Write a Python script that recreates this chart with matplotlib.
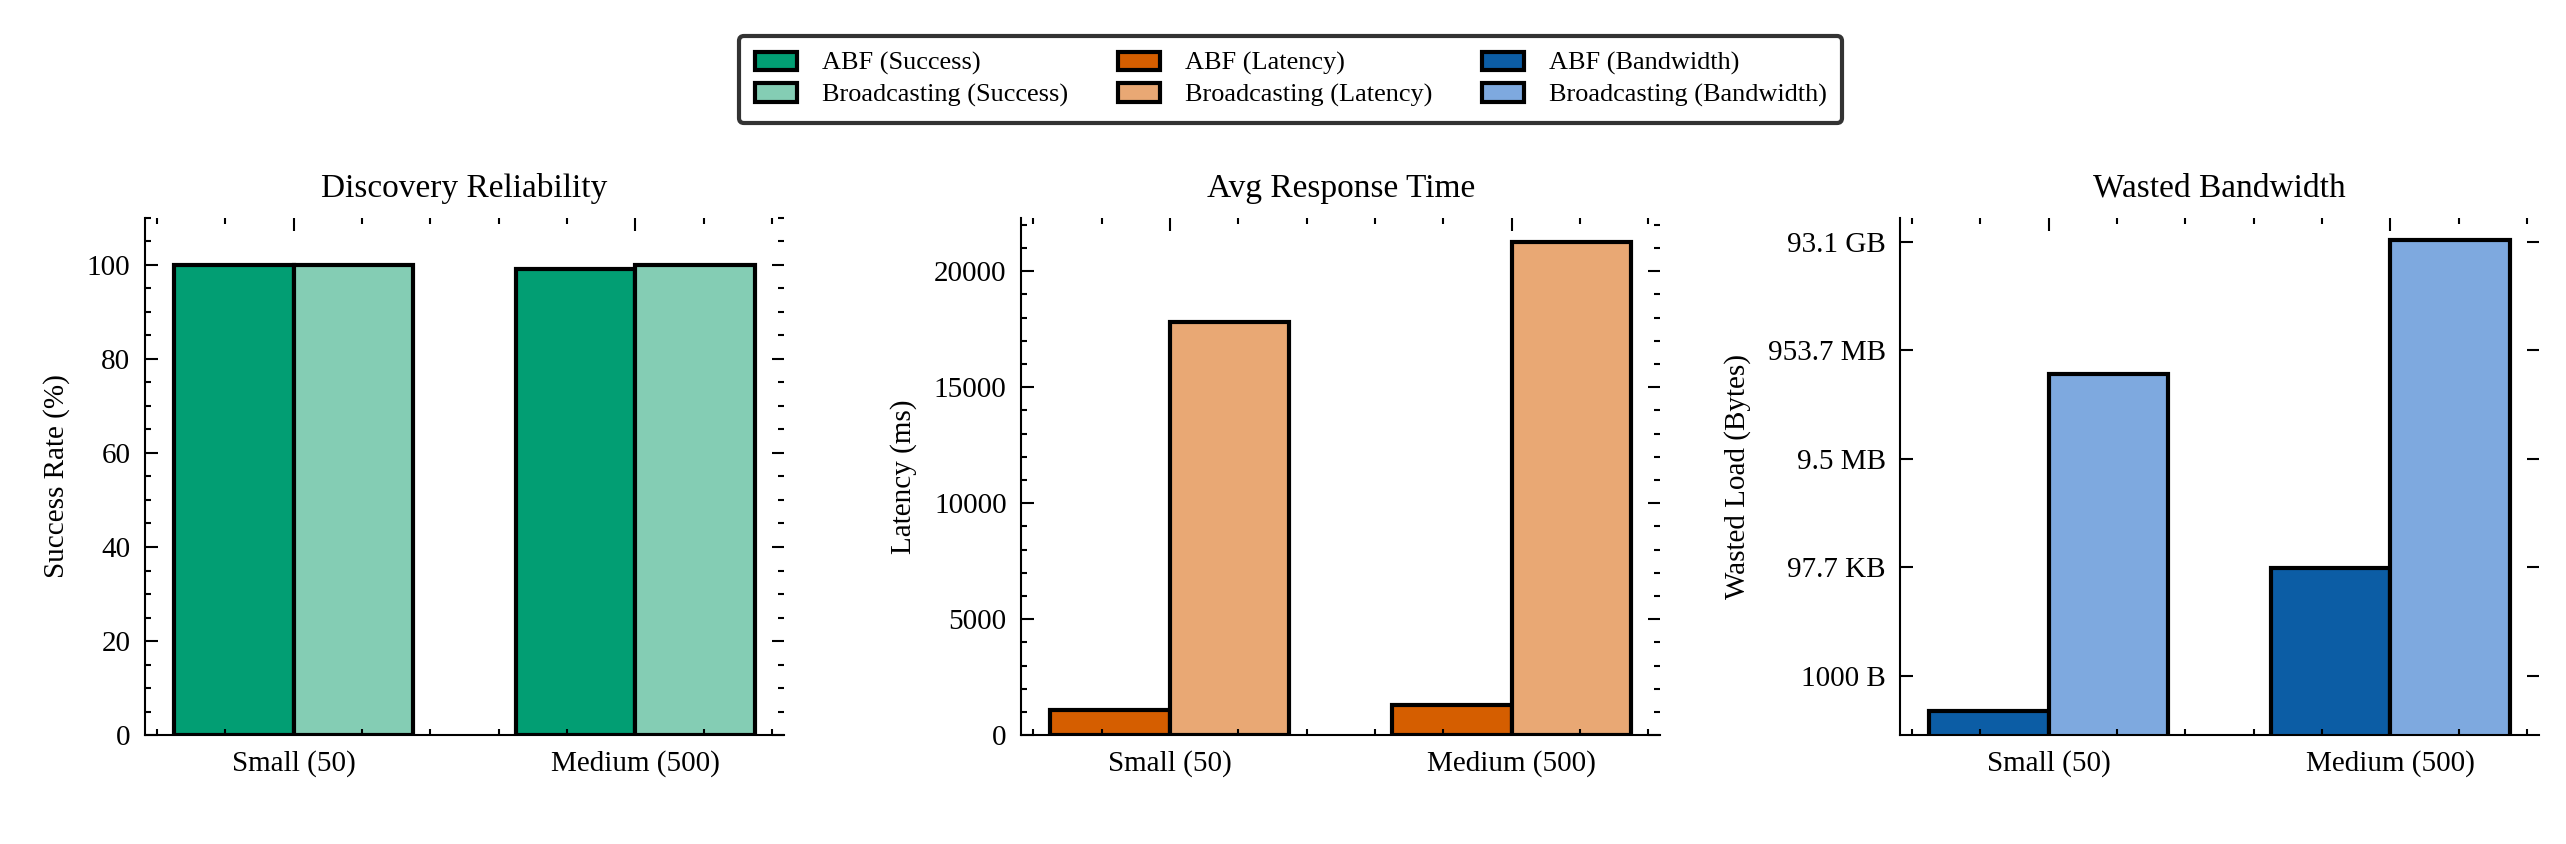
import numpy as np
import matplotlib
matplotlib.use('Agg')
import matplotlib.pyplot as plt
from matplotlib.ticker import AutoMinorLocator, FixedLocator, NullLocator, FuncFormatter, MultipleLocator

plt.rcParams['font.family'] = ['Liberation Serif', 'DejaVu Serif']
plt.rcParams['font.size'] = 7
plt.rcParams['xtick.direction'] = 'in'
plt.rcParams['ytick.direction'] = 'in'
plt.rcParams['xtick.top'] = True
plt.rcParams['ytick.right'] = True
plt.rcParams['xtick.major.size'] = 3
plt.rcParams['ytick.major.size'] = 3
plt.rcParams['xtick.minor.size'] = 1.5
plt.rcParams['ytick.minor.size'] = 1.5
plt.rcParams['xtick.major.width'] = 0.5
plt.rcParams['ytick.major.width'] = 0.5
plt.rcParams['xtick.minor.width'] = 0.5
plt.rcParams['ytick.minor.width'] = 0.5
plt.rcParams['axes.linewidth'] = 0.5

# data
groups = ['Small (50)', 'Medium (500)']
success_abf = [100.0, 99.2]
success_bc = [100.0, 99.9]
latency_abf = [1090, 1300]
latency_bc = [17800, 21240]
waste_abf = [221, 96000]
waste_bc = [3.68e8, 1.05e11]

green = ['#029E73', '#84CDB4']
orange = ['#D55E00', '#E9A874']
blue = ['#0C5DA5', '#7EA9DF']

def human_bytes(v, pos=None):
    units = ['B', 'KB', 'MB', 'GB', 'TB']
    i = 0
    while v >= 1024 and i < len(units) - 1:
        v /= 1024.0
        i += 1
    if i == 0:
        return '%d B' % round(v)
    return '%.1f %s' % (v, units[i])

fig = plt.figure(figsize=(2566/300, 844/300), dpi=300)
lefts = [0.0565, 0.398, 0.7405]
axes = [fig.add_axes([l, 0.129, 0.249, 0.613]) for l in lefts]

x = np.arange(len(groups))
w = 0.35
panels = [
    (success_abf, success_bc, green, 'Success', 'Discovery Reliability', 'Success Rate (%)'),
    (latency_abf, latency_bc, orange, 'Latency', 'Avg Response Time', 'Latency (ms)'),
    (waste_abf, waste_bc, blue, 'Bandwidth', 'Wasted Bandwidth', 'Wasted Load (Bytes)'),
]
handles = []
for ax, (a, b, cols, tag, title, ylab) in zip(axes, panels):
    h1 = ax.bar(x - w/2, a, w, color=cols[0], edgecolor='black', linewidth=1.0, label='ABF (%s)' % tag)
    h2 = ax.bar(x + w/2, b, w, color=cols[1], edgecolor='black', linewidth=1.0, label='Broadcasting (%s)' % tag)
    handles += [h1, h2]
    ax.set_title(title, fontsize=8, pad=5)
    ax.set_ylabel(ylab)
    ax.set_xticks(x)
    ax.set_xticklabels(groups)
    ax.xaxis.set_minor_locator(AutoMinorLocator(5))
    ax.spines['top'].set_visible(False)
    ax.spines['right'].set_visible(False)
    ax.tick_params(which='both', top=True, right=True)

axes[0].set_ylim(0, 110)
axes[0].yaxis.set_minor_locator(AutoMinorLocator())
axes[1].yaxis.set_major_locator(MultipleLocator(5000))
axes[1].yaxis.set_minor_locator(AutoMinorLocator(5))

ax3 = axes[2]
ax3.set_yscale('log')
ax3.set_ylim(80, 2.75e11)
ax3.yaxis.set_major_locator(FixedLocator([1e3, 1e5, 1e7, 1e9, 1e11]))
ax3.yaxis.set_minor_locator(NullLocator())
ax3.yaxis.set_major_formatter(FuncFormatter(human_bytes))

leg = fig.legend(handles=handles, labels=[h.get_label() for h in handles], ncol=3,
                 loc='upper center', bbox_to_anchor=(0.503, 0.973), frameon=True,
                 fancybox=True, edgecolor='#333333', framealpha=1, fontsize=6.3,
                 columnspacing=1.9, handlelength=1.6, handletextpad=0.95,
                 labelspacing=0.3, borderpad=0.6)
leg.get_frame().set_linewidth(1.0)

fig.savefig('out.png', dpi=300)
